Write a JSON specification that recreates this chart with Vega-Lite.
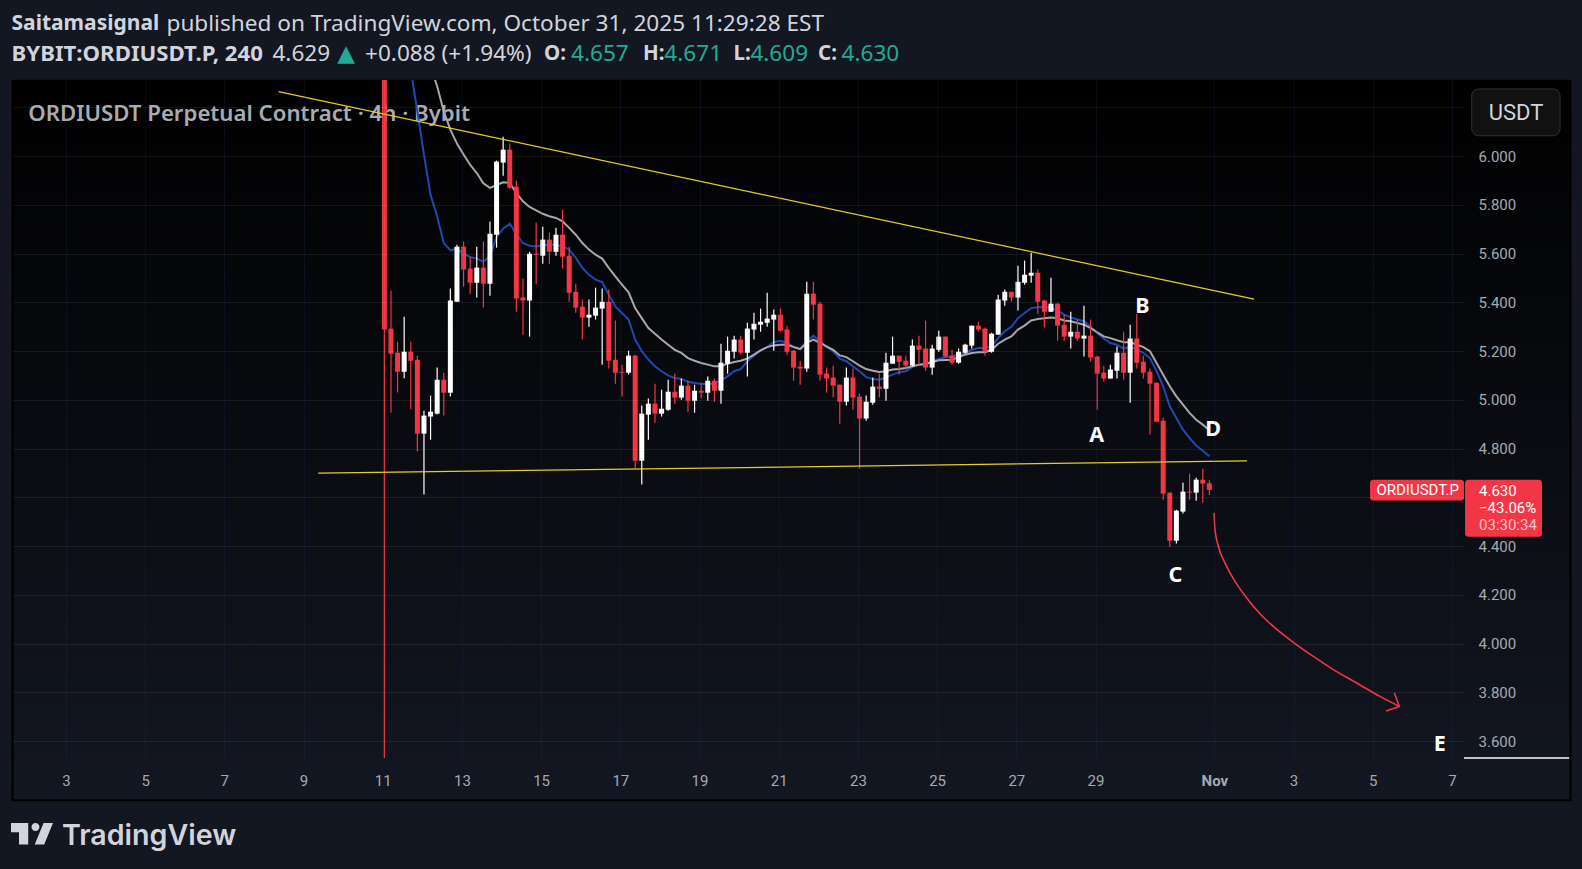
{"$schema":"https://vega.github.io/schema/vega-lite/v6.json","width":1451,"height":678,"autosize":{"type":"none"},"padding":{"left":13,"top":80,"right":118,"bottom":111},"background":"#131722","view":{"stroke":null},
"datasets":{"candles":[
{"t":"2025-10-11T01:00:00Z","o":7.5,"h":8,"l":3.5,"c":5.288},
{"t":"2025-10-11T05:00:00Z","o":5.292,"h":5.448,"l":4.948,"c":5.189},
{"t":"2025-10-11T09:00:00Z","o":5.193,"h":5.238,"l":5.03,"c":5.115},
{"t":"2025-10-11T13:00:00Z","o":5.115,"h":5.341,"l":5.088,"c":5.197},
{"t":"2025-10-11T17:00:00Z","o":5.197,"h":5.238,"l":4.961,"c":5.16,"fast":6.354},
{"t":"2025-10-11T21:00:00Z","o":5.164,"h":5.181,"l":4.788,"c":4.861,"fast":6.183},
{"t":"2025-10-12T01:00:00Z","o":4.861,"h":4.955,"l":4.611,"c":4.935,"fast":6.006},
{"t":"2025-10-12T05:00:00Z","o":4.931,"h":5.017,"l":4.836,"c":4.951,"fast":5.841,"slow":6.368},
{"t":"2025-10-12T09:00:00Z","o":4.943,"h":5.132,"l":4.939,"c":5.082,"fast":5.753,"slow":6.286},
{"t":"2025-10-12T13:00:00Z","o":5.082,"h":5.111,"l":4.935,"c":5.029,"fast":5.643,"slow":6.183},
{"t":"2025-10-12T17:00:00Z","o":5.029,"h":5.456,"l":5.013,"c":5.407,"fast":5.613,"slow":6.108},
{"t":"2025-10-12T21:00:00Z","o":5.402,"h":5.636,"l":5.402,"c":5.628,"fast":5.619,"slow":6.051},
{"t":"2025-10-13T01:00:00Z","o":5.628,"h":5.649,"l":5.464,"c":5.534,"fast":5.599,"slow":6.006},
{"t":"2025-10-13T05:00:00Z","o":5.538,"h":5.587,"l":5.435,"c":5.48,"fast":5.586,"slow":5.964},
{"t":"2025-10-13T09:00:00Z","o":5.48,"h":5.628,"l":5.419,"c":5.542,"fast":5.579,"slow":5.93},
{"t":"2025-10-13T13:00:00Z","o":5.542,"h":5.649,"l":5.378,"c":5.476,"fast":5.567,"slow":5.888},
{"t":"2025-10-13T17:00:00Z","o":5.476,"h":5.731,"l":5.427,"c":5.681,"fast":5.588,"slow":5.869},
{"t":"2025-10-13T21:00:00Z","o":5.677,"h":5.981,"l":5.624,"c":5.977,"fast":5.668,"slow":5.881},
{"t":"2025-10-14T01:00:00Z","o":5.973,"h":6.079,"l":5.919,"c":6.026,"fast":5.702,"slow":5.892},
{"t":"2025-10-14T05:00:00Z","o":6.026,"h":6.051,"l":5.866,"c":5.87,"fast":5.722,"slow":5.889},
{"t":"2025-10-14T09:00:00Z","o":5.874,"h":5.899,"l":5.361,"c":5.415,"fast":5.68,"slow":5.848},
{"t":"2025-10-14T13:00:00Z","o":5.419,"h":5.497,"l":5.267,"c":5.407,"fast":5.642,"slow":5.814},
{"t":"2025-10-14T17:00:00Z","o":5.407,"h":5.607,"l":5.259,"c":5.599,"fast":5.632,"slow":5.791},
{"t":"2025-10-14T21:00:00Z","o":5.599,"h":5.727,"l":5.476,"c":5.595,"fast":5.629,"slow":5.777},
{"t":"2025-10-15T01:00:00Z","o":5.591,"h":5.71,"l":5.558,"c":5.657,"fast":5.634,"slow":5.763},
{"t":"2025-10-15T05:00:00Z","o":5.657,"h":5.686,"l":5.558,"c":5.607,"fast":5.636,"slow":5.753},
{"t":"2025-10-15T09:00:00Z","o":5.607,"h":5.706,"l":5.591,"c":5.677,"fast":5.636,"slow":5.746},
{"t":"2025-10-15T13:00:00Z","o":5.677,"h":5.78,"l":5.538,"c":5.587,"fast":5.629,"slow":5.732},
{"t":"2025-10-15T17:00:00Z","o":5.591,"h":5.628,"l":5.402,"c":5.439,"fast":5.616,"slow":5.705},
{"t":"2025-10-15T21:00:00Z","o":5.443,"h":5.476,"l":5.357,"c":5.378,"fast":5.582,"slow":5.677},
{"t":"2025-10-16T01:00:00Z","o":5.382,"h":5.411,"l":5.247,"c":5.337,"fast":5.541,"slow":5.643},
{"t":"2025-10-16T05:00:00Z","o":5.337,"h":5.411,"l":5.3,"c":5.349,"fast":5.513,"slow":5.616},
{"t":"2025-10-16T09:00:00Z","o":5.345,"h":5.46,"l":5.329,"c":5.378,"fast":5.493,"slow":5.595},
{"t":"2025-10-16T13:00:00Z","o":5.374,"h":5.456,"l":5.144,"c":5.402,"fast":5.483,"slow":5.579},
{"t":"2025-10-16T17:00:00Z","o":5.402,"h":5.452,"l":5.128,"c":5.16,"fast":5.431,"slow":5.541},
{"t":"2025-10-16T21:00:00Z","o":5.164,"h":5.325,"l":5.066,"c":5.111,"fast":5.383,"slow":5.506},
{"t":"2025-10-17T01:00:00Z","o":5.115,"h":5.144,"l":5.013,"c":5.111,"fast":5.356,"slow":5.472},
{"t":"2025-10-17T05:00:00Z","o":5.111,"h":5.201,"l":5.103,"c":5.181,"fast":5.329,"slow":5.441},
{"t":"2025-10-17T09:00:00Z","o":5.181,"h":5.185,"l":4.717,"c":4.75,"fast":5.247,"slow":5.376},
{"t":"2025-10-17T13:00:00Z","o":4.75,"h":4.976,"l":4.652,"c":4.943,"fast":5.199,"slow":5.335},
{"t":"2025-10-17T17:00:00Z","o":4.939,"h":5.005,"l":4.836,"c":4.984,"fast":5.165,"slow":5.294},
{"t":"2025-10-17T21:00:00Z","o":4.984,"h":5.066,"l":4.906,"c":4.943,"fast":5.137,"slow":5.271},
{"t":"2025-10-18T01:00:00Z","o":4.943,"h":5.041,"l":4.931,"c":4.963,"fast":5.117,"slow":5.247},
{"t":"2025-10-18T05:00:00Z","o":4.959,"h":5.082,"l":4.955,"c":5.033,"fast":5.1,"slow":5.226},
{"t":"2025-10-18T09:00:00Z","o":5.033,"h":5.107,"l":4.984,"c":5.009,"fast":5.089,"slow":5.205},
{"t":"2025-10-18T13:00:00Z","o":5.009,"h":5.087,"l":5,"c":5.058,"fast":5.085,"slow":5.192},
{"t":"2025-10-18T17:00:00Z","o":5.058,"h":5.078,"l":4.951,"c":4.996,"fast":5.074,"slow":5.171},
{"t":"2025-10-18T21:00:00Z","o":4.996,"h":5.062,"l":4.947,"c":5.037,"fast":5.069,"slow":5.16},
{"t":"2025-10-19T01:00:00Z","o":5.037,"h":5.07,"l":5.005,"c":5.029,"fast":5.065,"slow":5.151},
{"t":"2025-10-19T05:00:00Z","o":5.029,"h":5.095,"l":4.996,"c":5.078,"fast":5.066,"slow":5.144},
{"t":"2025-10-19T09:00:00Z","o":5.078,"h":5.087,"l":4.992,"c":5.037,"fast":5.066,"slow":5.137},
{"t":"2025-10-19T13:00:00Z","o":5.037,"h":5.23,"l":4.984,"c":5.152,"fast":5.08,"slow":5.137},
{"t":"2025-10-19T17:00:00Z","o":5.148,"h":5.259,"l":5.107,"c":5.201,"fast":5.096,"slow":5.148},
{"t":"2025-10-19T21:00:00Z","o":5.197,"h":5.263,"l":5.169,"c":5.247,"fast":5.117,"slow":5.155},
{"t":"2025-10-20T01:00:00Z","o":5.247,"h":5.263,"l":5.185,"c":5.193,"fast":5.126,"slow":5.16},
{"t":"2025-10-20T05:00:00Z","o":5.193,"h":5.316,"l":5.095,"c":5.292,"fast":5.158,"slow":5.169},
{"t":"2025-10-20T09:00:00Z","o":5.288,"h":5.357,"l":5.247,"c":5.312,"fast":5.181,"slow":5.185},
{"t":"2025-10-20T13:00:00Z","o":5.308,"h":5.374,"l":5.279,"c":5.32,"fast":5.201,"slow":5.203},
{"t":"2025-10-20T17:00:00Z","o":5.316,"h":5.439,"l":5.3,"c":5.333,"fast":5.216,"slow":5.216},
{"t":"2025-10-20T21:00:00Z","o":5.329,"h":5.37,"l":5.201,"c":5.349,"fast":5.236,"slow":5.223},
{"t":"2025-10-21T01:00:00Z","o":5.349,"h":5.374,"l":5.279,"c":5.283,"fast":5.242,"slow":5.226},
{"t":"2025-10-21T05:00:00Z","o":5.288,"h":5.304,"l":5.185,"c":5.197,"fast":5.233,"slow":5.226},
{"t":"2025-10-21T09:00:00Z","o":5.201,"h":5.205,"l":5.078,"c":5.132,"fast":5.219,"slow":5.216},
{"t":"2025-10-21T13:00:00Z","o":5.136,"h":5.16,"l":5.062,"c":5.128,"fast":5.208,"slow":5.208},
{"t":"2025-10-21T17:00:00Z","o":5.128,"h":5.484,"l":5.115,"c":5.435,"fast":5.24,"slow":5.233},
{"t":"2025-10-21T21:00:00Z","o":5.435,"h":5.484,"l":5.329,"c":5.39,"fast":5.263,"slow":5.247},
{"t":"2025-10-22T01:00:00Z","o":5.394,"h":5.402,"l":5.078,"c":5.103,"fast":5.24,"slow":5.233},
{"t":"2025-10-22T05:00:00Z","o":5.107,"h":5.132,"l":5.029,"c":5.087,"fast":5.216,"slow":5.219},
{"t":"2025-10-22T09:00:00Z","o":5.091,"h":5.14,"l":5.009,"c":5.058,"fast":5.199,"slow":5.205},
{"t":"2025-10-22T13:00:00Z","o":5.062,"h":5.062,"l":4.902,"c":4.992,"fast":5.169,"slow":5.182},
{"t":"2025-10-22T17:00:00Z","o":4.992,"h":5.132,"l":4.976,"c":5.091,"fast":5.158,"slow":5.175},
{"t":"2025-10-22T21:00:00Z","o":5.091,"h":5.128,"l":4.959,"c":5.009,"fast":5.137,"slow":5.158},
{"t":"2025-10-23T01:00:00Z","o":5.013,"h":5.025,"l":4.717,"c":4.923,"fast":5.117,"slow":5.14},
{"t":"2025-10-23T05:00:00Z","o":4.923,"h":5.017,"l":4.914,"c":4.992,"fast":5.093,"slow":5.126},
{"t":"2025-10-23T09:00:00Z","o":4.988,"h":5.091,"l":4.98,"c":5.054,"fast":5.085,"slow":5.119},
{"t":"2025-10-23T13:00:00Z","o":5.054,"h":5.107,"l":5.009,"c":5.045,"fast":5.082,"slow":5.114},
{"t":"2025-10-23T17:00:00Z","o":5.045,"h":5.193,"l":4.996,"c":5.152,"fast":5.092,"slow":5.117},
{"t":"2025-10-23T21:00:00Z","o":5.148,"h":5.259,"l":5.148,"c":5.181,"fast":5.103,"slow":5.124},
{"t":"2025-10-24T01:00:00Z","o":5.181,"h":5.181,"l":5.103,"c":5.156,"fast":5.113,"slow":5.126},
{"t":"2025-10-24T05:00:00Z","o":5.16,"h":5.181,"l":5.124,"c":5.14,"fast":5.117,"slow":5.13},
{"t":"2025-10-24T09:00:00Z","o":5.14,"h":5.247,"l":5.136,"c":5.222,"fast":5.134,"slow":5.137},
{"t":"2025-10-24T13:00:00Z","o":5.222,"h":5.263,"l":5.14,"c":5.205,"fast":5.144,"slow":5.144},
{"t":"2025-10-24T17:00:00Z","o":5.21,"h":5.325,"l":5.119,"c":5.132,"fast":5.144,"slow":5.148},
{"t":"2025-10-24T21:00:00Z","o":5.132,"h":5.226,"l":5.103,"c":5.21,"fast":5.158,"slow":5.154},
{"t":"2025-10-25T01:00:00Z","o":5.205,"h":5.283,"l":5.197,"c":5.259,"fast":5.167,"slow":5.162},
{"t":"2025-10-25T05:00:00Z","o":5.259,"h":5.259,"l":5.173,"c":5.177,"fast":5.174,"slow":5.163},
{"t":"2025-10-25T09:00:00Z","o":5.181,"h":5.205,"l":5.144,"c":5.152,"fast":5.178,"slow":5.164},
{"t":"2025-10-25T13:00:00Z","o":5.152,"h":5.21,"l":5.148,"c":5.197,"fast":5.185,"slow":5.175},
{"t":"2025-10-25T17:00:00Z","o":5.193,"h":5.23,"l":5.189,"c":5.226,"fast":5.192,"slow":5.185},
{"t":"2025-10-25T21:00:00Z","o":5.222,"h":5.304,"l":5.21,"c":5.304,"fast":5.205,"slow":5.192},
{"t":"2025-10-26T01:00:00Z","o":5.304,"h":5.32,"l":5.279,"c":5.288,"fast":5.212,"slow":5.195},
{"t":"2025-10-26T05:00:00Z","o":5.292,"h":5.296,"l":5.181,"c":5.197,"fast":5.212,"slow":5.195},
{"t":"2025-10-26T09:00:00Z","o":5.197,"h":5.275,"l":5.193,"c":5.271,"fast":5.219,"slow":5.205},
{"t":"2025-10-26T13:00:00Z","o":5.267,"h":5.431,"l":5.267,"c":5.411,"fast":5.253,"slow":5.23},
{"t":"2025-10-26T17:00:00Z","o":5.407,"h":5.452,"l":5.386,"c":5.443,"fast":5.281,"slow":5.247},
{"t":"2025-10-26T21:00:00Z","o":5.443,"h":5.443,"l":5.402,"c":5.419,"fast":5.299,"slow":5.26},
{"t":"2025-10-27T01:00:00Z","o":5.419,"h":5.55,"l":5.366,"c":5.484,"fast":5.335,"slow":5.288},
{"t":"2025-10-27T05:00:00Z","o":5.48,"h":5.571,"l":5.472,"c":5.513,"fast":5.356,"slow":5.304},
{"t":"2025-10-27T09:00:00Z","o":5.509,"h":5.603,"l":5.48,"c":5.521,"fast":5.376,"slow":5.325},
{"t":"2025-10-27T13:00:00Z","o":5.521,"h":5.534,"l":5.353,"c":5.402,"fast":5.379,"slow":5.331},
{"t":"2025-10-27T17:00:00Z","o":5.407,"h":5.411,"l":5.296,"c":5.361,"fast":5.379,"slow":5.334},
{"t":"2025-10-27T21:00:00Z","o":5.361,"h":5.501,"l":5.361,"c":5.394,"fast":5.376,"slow":5.337},
{"t":"2025-10-28T01:00:00Z","o":5.394,"h":5.398,"l":5.242,"c":5.304,"fast":5.367,"slow":5.334},
{"t":"2025-10-28T05:00:00Z","o":5.308,"h":5.349,"l":5.242,"c":5.259,"fast":5.349,"slow":5.325},
{"t":"2025-10-28T09:00:00Z","o":5.259,"h":5.361,"l":5.21,"c":5.279,"fast":5.338,"slow":5.322},
{"t":"2025-10-28T13:00:00Z","o":5.279,"h":5.329,"l":5.242,"c":5.251,"fast":5.329,"slow":5.315},
{"t":"2025-10-28T17:00:00Z","o":5.251,"h":5.386,"l":5.177,"c":5.263,"fast":5.322,"slow":5.308},
{"t":"2025-10-28T21:00:00Z","o":5.263,"h":5.329,"l":5.156,"c":5.173,"fast":5.299,"slow":5.294},
{"t":"2025-10-29T01:00:00Z","o":5.177,"h":5.181,"l":4.959,"c":5.107,"fast":5.274,"slow":5.277},
{"t":"2025-10-29T05:00:00Z","o":5.111,"h":5.14,"l":5.074,"c":5.087,"fast":5.251,"slow":5.26},
{"t":"2025-10-29T09:00:00Z","o":5.087,"h":5.144,"l":5.087,"c":5.124,"fast":5.233,"slow":5.253},
{"t":"2025-10-29T13:00:00Z","o":5.119,"h":5.218,"l":5.087,"c":5.193,"fast":5.226,"slow":5.244},
{"t":"2025-10-29T17:00:00Z","o":5.193,"h":5.279,"l":5.082,"c":5.111,"fast":5.21,"slow":5.236},
{"t":"2025-10-29T21:00:00Z","o":5.111,"h":5.308,"l":4.988,"c":5.251,"fast":5.216,"slow":5.236},
{"t":"2025-10-30T01:00:00Z","o":5.251,"h":5.353,"l":5.128,"c":5.152,"fast":5.208,"slow":5.226},
{"t":"2025-10-30T05:00:00Z","o":5.156,"h":5.181,"l":5.087,"c":5.111,"fast":5.192,"slow":5.216},
{"t":"2025-10-30T09:00:00Z","o":5.115,"h":5.128,"l":4.857,"c":5.066,"fast":5.171,"slow":5.199},
{"t":"2025-10-30T13:00:00Z","o":5.07,"h":5.07,"l":4.91,"c":4.91,"fast":5.117,"slow":5.151},
{"t":"2025-10-30T17:00:00Z","o":4.914,"h":4.927,"l":4.59,"c":4.615,"fast":5.055,"slow":5.103},
{"t":"2025-10-30T21:00:00Z","o":4.619,"h":4.619,"l":4.397,"c":4.422,"fast":4.973,"slow":5.055},
{"t":"2025-10-31T01:00:00Z","o":4.422,"h":4.549,"l":4.41,"c":4.545,"fast":4.925,"slow":5.014},
{"t":"2025-10-31T05:00:00Z","o":4.541,"h":4.66,"l":4.533,"c":4.623,"fast":4.877,"slow":4.98},
{"t":"2025-10-31T09:00:00Z","o":4.623,"h":4.697,"l":4.59,"c":4.619,"fast":4.843,"slow":4.946},
{"t":"2025-10-31T13:00:00Z","o":4.619,"h":4.68,"l":4.586,"c":4.672,"fast":4.812,"slow":4.918},
{"t":"2025-10-31T17:00:00Z","o":4.672,"h":4.717,"l":4.578,"c":4.656,"fast":4.791,"slow":4.898},
{"t":"2025-10-31T21:00:00Z","o":4.657,"h":4.671,"l":4.609,"c":4.63,"fast":4.768,"slow":4.875}
]},
"encoding":{
"x":{"field":"t","type":"temporal","scale":{"type":"utc","padding":0,"domain":["2025-10-01T15:56:00Z","2025-11-07T07:19:00Z"]},
"axis":{"title":null,"zindex":1,"values":["2025-10-03T00:00:00Z","2025-10-05T00:00:00Z","2025-10-07T00:00:00Z","2025-10-09T00:00:00Z","2025-10-11T00:00:00Z","2025-10-13T00:00:00Z","2025-10-15T00:00:00Z","2025-10-17T00:00:00Z","2025-10-19T00:00:00Z","2025-10-21T00:00:00Z","2025-10-23T00:00:00Z","2025-10-25T00:00:00Z","2025-10-27T00:00:00Z","2025-10-29T00:00:00Z","2025-11-01T00:00:00Z","2025-11-03T00:00:00Z","2025-11-05T00:00:00Z","2025-11-07T00:00:00Z"],
"labelExpr":"utcdate(datum.value)==1?'Nov':''+utcdate(datum.value)","labelFontWeight":{"condition":{"test":"utcdate(datum.value)==1","value":"bold"},"value":"normal"},"labelFont":"Roboto","labelFontSize":15,"labelColor":"#a6a9b2","labelPadding":15,"labelFlush":false,"labelOverlap":false,"domain":false,"ticks":false,"grid":true,"gridColor":"#2a3f75","gridOpacity":0.18,"gridWidth":1}},
"y":{"field":"p","type":"quantitative","scale":{"domain":[3.5303,6.3118],"nice":false,"zero":false},
"axis":{"title":null,"orient":"right","zindex":1,"values":[3.6,3.8,4,4.2,4.4,4.6,4.8,5,5.2,5.4,5.6,5.8,6,6.2],"labelExpr":"datum.value>6.1||abs(datum.value-4.6)<0.01?'':format(datum.value,'.3f')","labelFont":"Roboto","labelFontSize":15,"labelColor":"#a6a9b2","labelPadding":14,"labelOverlap":false,"labelFlush":false,"domain":false,"ticks":false,"grid":true,"gridColor":"#ffffff","gridOpacity":0.07,"gridWidth":1}}},
"layer":[
{"data":{"values":[{"t":"2025-10-01T15:38:00Z","t2":"2025-11-09T23:53:00Z","p":6.309,"p2":3.357}],"format":{"parse":{"t2":"date"}}},"mark":{"type":"rect","fill":{"gradient":"linear","x1":0,"y1":0,"x2":0,"y2":1,"stops":[{"offset":0,"color":"#000000"},{"offset":1,"color":"#131722"}]},"stroke":"#000000","strokeWidth":2},"encoding":{"x2":{"field":"t2"},"y2":{"field":"p2"}}},
{"data":{"values":[{"label":"ORDIUSDT Perpetual Contract · 4h · Bybit","t":"2025-10-02T01:13:00Z","p":6.174}]},"mark":{"type":"text","align":"left","baseline":"middle","font":"Noto Sans","fontSize":22.2,"fontWeight":600,"color":"#a9abb3"},"encoding":{"text":{"field":"label","type":"nominal"}}},
{"data":{"name":"candles"},"mark":{"type":"line","clip":true,"color":"#1f48b0","strokeWidth":2},"encoding":{"y":{"field":"fast","type":"quantitative","axis":{"title":null,"orient":"right"}}}},
{"data":{"name":"candles"},"mark":{"type":"line","clip":true,"color":"#a8a8a8","strokeWidth":2},"encoding":{"y":{"field":"slow","type":"quantitative","axis":{"title":null,"orient":"right"}}}},
{"data":{"name":"candles"},"mark":{"type":"rule","clip":true,"strokeWidth":1.2},"encoding":{"y":{"field":"l","type":"quantitative","axis":{"title":null,"orient":"right"}},"y2":{"field":"h"},"color":{"condition":{"test":"datum.c>=datum.o","value":"#ffffff"},"value":"#f23645"}}},
{"data":{"name":"candles"},"mark":{"type":"bar","clip":true,"width":5,"orient":"vertical"},"encoding":{"y":{"field":"o","type":"quantitative","axis":{"title":null,"orient":"right"}},"y2":{"field":"c"},"color":{"condition":{"test":"datum.c>=datum.o","value":"#ffffff"},"value":"#f23645"}}},
{"data":{"values":[{"line":"upper","t":"2025-10-08T08:52:00Z","p":6.264},{"line":"upper","t":"2025-11-02T00:04:00Z","p":5.413},{"line":"lower","t":"2025-10-09T08:53:00Z","p":4.699},{"line":"lower","t":"2025-11-01T19:50:00Z","p":4.749}]},"mark":{"type":"line","color":"#e3cf22","strokeWidth":1.2},"encoding":{"detail":{"field":"line","type":"nominal"}}},
{"data":{"values":[{"t":"2025-10-31T23:49:00Z","p":4.536},{"t":"2025-11-01T00:25:00Z","p":4.467},{"t":"2025-11-01T02:25:00Z","p":4.399},{"t":"2025-11-01T06:29:00Z","p":4.33},{"t":"2025-11-01T12:33:00Z","p":4.255},{"t":"2025-11-01T19:38:00Z","p":4.187},{"t":"2025-11-02T03:42:00Z","p":4.122},{"t":"2025-11-02T12:47:00Z","p":4.064},{"t":"2025-11-02T23:52:00Z","p":4.005},{"t":"2025-11-03T12:00:00Z","p":3.947},{"t":"2025-11-04T00:07:00Z","p":3.893},{"t":"2025-11-04T14:18:00Z","p":3.838},{"t":"2025-11-05T04:25:00Z","p":3.783},{"t":"2025-11-05T16:07:00Z","p":3.742}]},"mark":{"type":"line","color":"#f23645","strokeWidth":1.6,"interpolate":"monotone"}},
{"data":{"values":[{"n":1,"t":"2025-11-05T13:05:00Z","p":3.797},{"n":2,"t":"2025-11-05T16:07:00Z","p":3.742},{"n":3,"t":"2025-11-05T08:04:00Z","p":3.723}]},"mark":{"type":"line","color":"#f23645","strokeWidth":1.6},"encoding":{"order":{"field":"n","type":"quantitative"}}},
{"data":{"values":[{"label":"A","t":"2025-10-29T00:43:00Z","p":4.851},{"label":"B","t":"2025-10-30T04:22:00Z","p":5.381},{"label":"C","t":"2025-10-31T00:29:00Z","p":4.276},{"label":"D","t":"2025-10-31T23:13:00Z","p":4.875},{"label":"E","t":"2025-11-06T16:36:00Z","p":3.584}]},"mark":{"type":"text","align":"center","baseline":"middle","font":"Noto Sans","fontSize":21.5,"fontWeight":"bold","color":"#ffffff"},"encoding":{"text":{"field":"label","type":"nominal"}}},
{"data":{"values":[{"t":"2025-11-07T07:19:00Z","t2":"2025-11-09T23:02:00Z","p":3.5303}],"format":{"parse":{"t2":"date"}}},"mark":{"type":"rule","color":"#ffffff","strokeWidth":1.5},"encoding":{"x2":{"field":"t2"}}},
{"data":{"values":[{"t":"2025-11-07T12:00:00Z","t2":"2025-11-09T17:31:00Z","p":6.275,"p2":6.083}],"format":{"parse":{"t2":"date"}}},"mark":{"type":"rect","fill":"#111111","stroke":"#333336","strokeWidth":1,"cornerRadius":7},"encoding":{"x2":{"field":"t2"},"y2":{"field":"p2"}}},
{"data":{"values":[{"label":"USDT","t":"2025-11-08T14:51:00Z","p":6.178}]},"mark":{"type":"text","align":"center","baseline":"middle","font":"Roboto","fontSize":22,"color":"#d1d4dc"},"encoding":{"text":{"field":"label","type":"nominal"}}},
{"data":{"values":[{"t":"2025-11-04T22:22:00Z","t2":"2025-11-07T07:19:00Z","p":4.672,"p2":4.587},{"t":"2025-11-07T07:59:00Z","t2":"2025-11-09T06:36:00Z","p":4.672,"p2":4.438}],"format":{"parse":{"t2":"date"}}},"mark":{"type":"rect","fill":"#f23645","cornerRadius":3},"encoding":{"x2":{"field":"t2"},"y2":{"field":"p2"}}},
{"data":{"values":[{"label":"ORDIUSDT.P","t":"2025-11-06T03:16:00Z","p":4.63}]},"mark":{"type":"text","align":"center","baseline":"middle","font":"Roboto","fontSize":15,"color":"#ffffff"},"encoding":{"text":{"field":"label","type":"nominal"}}},
{"data":{"values":[{"label":"4.630","t":"2025-11-07T16:25:00Z","p":4.626},{"label":"−43.06%","t":"2025-11-07T16:25:00Z","p":4.554}]},"mark":{"type":"text","align":"left","baseline":"middle","font":"Roboto","fontSize":15,"color":"#ffffff"},"encoding":{"text":{"field":"label","type":"nominal"}}},
{"data":{"values":[{"label":"03:30:34","t":"2025-11-07T16:25:00Z","p":4.488}]},"mark":{"type":"text","align":"left","baseline":"middle","font":"Roboto","fontSize":15,"color":"#fbc4ca"},"encoding":{"text":{"field":"label","type":"nominal"}}},
{"data":{"values":[{"label":"Saitamasignal","t":"2025-10-01T15:01:00Z","p":6.543}]},"mark":{"type":"text","align":"left","baseline":"middle","font":"Noto Sans","fontSize":21,"fontWeight":"bold","color":"#d1d4dc"},"encoding":{"text":{"field":"label","type":"nominal"}}},
{"data":{"values":[{"label":"BYBIT:ORDIUSDT.P, 240","t":"2025-10-01T15:01:00Z","p":6.42}]},"mark":{"type":"text","align":"left","baseline":"middle","font":"Noto Sans","fontSize":22.2,"fontWeight":"bold","color":"#d1d4dc"},"encoding":{"text":{"field":"label","type":"nominal"}}},
{"data":{"values":[{"label":"O:","t":"2025-10-15T01:45:00Z","p":6.42},{"label":"H:","t":"2025-10-17T13:45:00Z","p":6.42},{"label":"L:","t":"2025-10-19T20:37:00Z","p":6.42},{"label":"C:","t":"2025-10-21T23:49:00Z","p":6.42}]},"mark":{"type":"text","align":"left","baseline":"middle","font":"Noto Sans","fontSize":20.5,"fontWeight":"bold","color":"#d1d4dc"},"encoding":{"text":{"field":"label","type":"nominal"}}},
{"data":{"values":[{"label":"published on TradingView.com, October 31, 2025 11:29:28 EST","t":"2025-10-05T12:58:00Z","p":6.543},{"label":"4.629","t":"2025-10-08T05:10:00Z","p":6.42},{"label":"+0.088 (+1.94%)","t":"2025-10-10T13:16:00Z","p":6.42}]},"mark":{"type":"text","align":"left","baseline":"middle","font":"Noto Sans","fontSize":22.6,"color":"#d1d4dc"},"encoding":{"text":{"field":"label","type":"nominal"}}},
{"data":{"values":[{"label":"▲","t":"2025-10-09T20:30:00Z","p":6.42}]},"mark":{"type":"text","align":"left","baseline":"middle","font":"DejaVu Sans","fontSize":23,"color":"#22ab94"},"encoding":{"text":{"field":"label","type":"nominal"}}},
{"data":{"values":[{"label":"4.657","t":"2025-10-15T18:07:00Z","p":6.42},{"label":"4.671","t":"2025-10-18T02:40:00Z","p":6.42},{"label":"4.609","t":"2025-10-20T06:50:00Z","p":6.42},{"label":"4.630","t":"2025-10-22T14:04:00Z","p":6.42}]},"mark":{"type":"text","align":"left","baseline":"middle","font":"Noto Sans","fontSize":22.6,"color":"#22ab94"},"encoding":{"text":{"field":"label","type":"nominal"}}},
{"data":{"values":[{"t":"2025-10-02T03:27:00Z","p":3.22}]},"mark":{"type":"point","filled":true,"opacity":1,"color":"#d1d4dc","size":1764,"shape":"M-1,-.512 L-.18,-.512 L-.18,.512 L-.62,.512 L-.62,-.07 L-1,-.07 Z M-.025,-.32 A.19,.19 0 1 1 .355,-.32 A.19,.19 0 1 1 -.025,-.32 Z M.55,-.512 L1,-.512 L.58,.512 L.13,.512 Z"}},
{"data":{"values":[{"label":"TradingView","t":"2025-10-02T21:38:00Z","p":3.212}]},"mark":{"type":"text","align":"left","baseline":"middle","font":"Inter","fontSize":28.6,"fontWeight":600,"color":"#d1d4dc"},"encoding":{"text":{"field":"label","type":"nominal"}}}
]}
